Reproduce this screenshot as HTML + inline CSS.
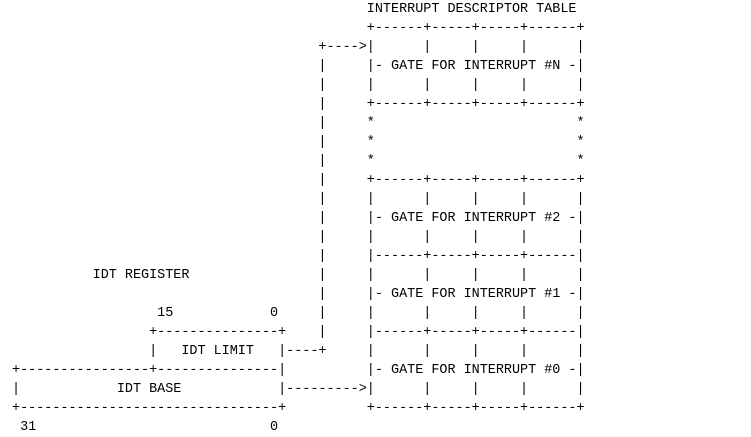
<!DOCTYPE html>
<html><head><meta charset="utf-8"><style>
html,body{margin:0;padding:0;background:#fff;width:751px;height:437px;overflow:hidden}
pre{position:absolute;left:12px;top:0;margin:0;font-family:"Liberation Mono",monospace;font-size:13.45px;line-height:19px;color:#000}
</style></head><body><pre>                                            INTERRUPT DESCRIPTOR TABLE
                                            +------+-----+-----+------+
                                      +---->|      |     |     |      |
                                      |     |- GATE FOR INTERRUPT #N -|
                                      |     |      |     |     |      |
                                      |     +------+-----+-----+------+
                                      |     *                         *
                                      |     *                         *
                                      |     *                         *
                                      |     +------+-----+-----+------+
                                      |     |      |     |     |      |
                                      |     |- GATE FOR INTERRUPT #2 -|
                                      |     |      |     |     |      |
                                      |     |------+-----+-----+------|
          IDT REGISTER                |     |      |     |     |      |
                                      |     |- GATE FOR INTERRUPT #1 -|
                  15            0     |     |      |     |     |      |
                 +---------------+    |     |------+-----+-----+------|
                 |   IDT LIMIT   |----+     |      |     |     |      |
+----------------+---------------|          |- GATE FOR INTERRUPT #0 -|
|            IDT BASE            |--------->|      |     |     |      |
+--------------------------------+          +------+-----+-----+------+
 31                             0</pre></body></html>
